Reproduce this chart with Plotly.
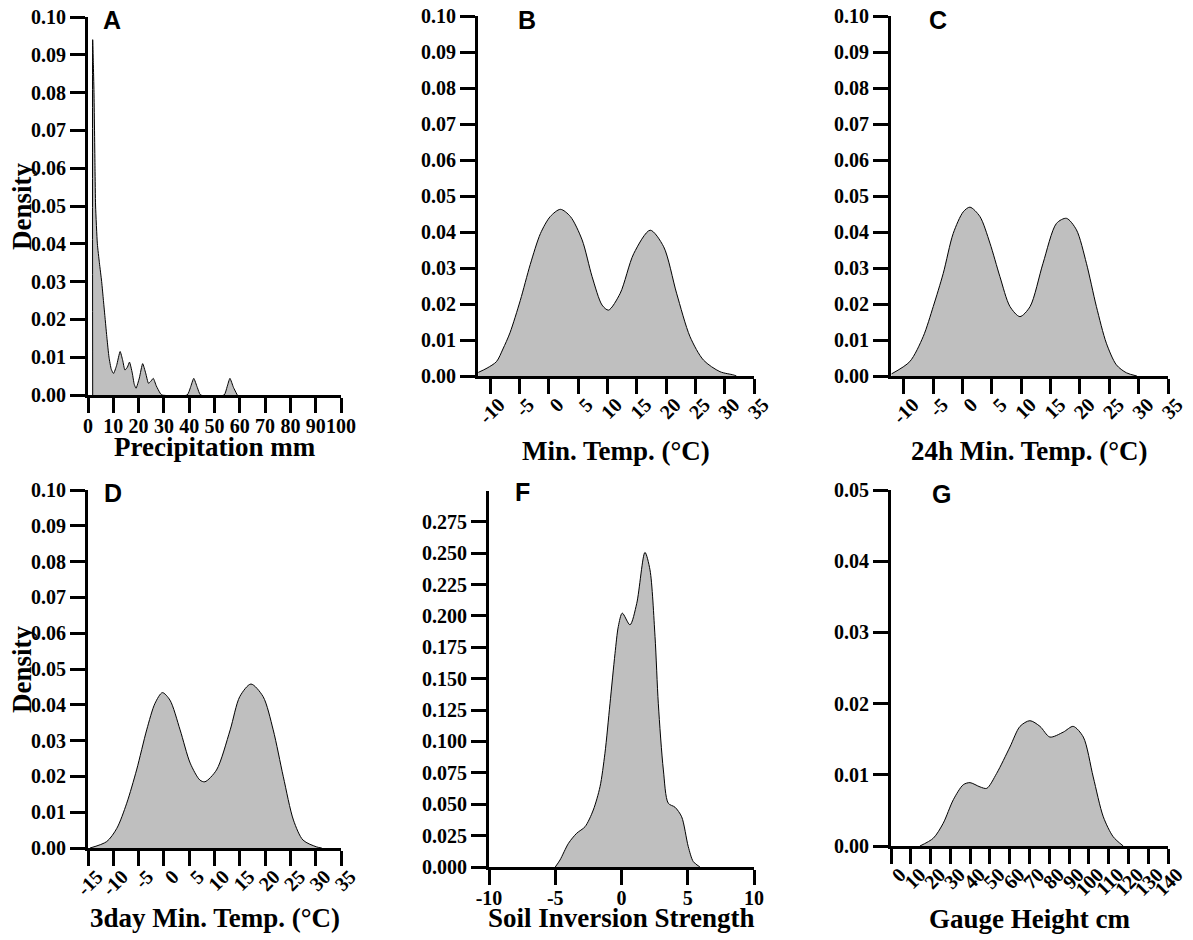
import plotly.graph_objects as go

# The page body has an 8px margin, so the figure is drawn 8px in from the top-left
OFF = 8
W, H = 1193 - OFF, 940 - OFF

# ---------------- data ----------------
precip_x = [1.85, 1.85, 2.1, 2.37, 2.77, 3.0, 3.7, 4.5, 5.4, 6.1, 6.8, 7.5, 8.3, 9.2, 10.1, 11.3, 12.7,
            13.7, 14.6, 15.6, 16.4, 17.5, 18.3, 19.0, 20.3, 21.6, 22.8, 23.9, 24.8, 25.8, 27.0, 28.5,
            29.2, 39.2, 40.5, 41.8, 43.2, 44.5, 53.8, 55.0, 56.1, 57.5, 59.0]
precip_d = [0.0, 0.094, 0.088, 0.080, 0.060, 0.050, 0.040, 0.035, 0.030, 0.025, 0.020, 0.015, 0.010,
            0.0068, 0.0057, 0.0078, 0.0115, 0.0092, 0.0066, 0.0074, 0.0087, 0.0058, 0.0028, 0.0018,
            0.0045, 0.0083, 0.0058, 0.0031, 0.0036, 0.0044, 0.0024, 0.0005, 0.0, 0.0, 0.0020, 0.0044,
            0.0020, 0.0, 0.0, 0.0022, 0.0044, 0.0020, 0.0]

mint_x = [-12.0, -10.5, -8.9, -7.8, -6.6, -4.84, -3.14, -1.4, 0.27, 2.0, 3.7, 5.7, 7.4, 9.1, 10.2,
          12.2, 14.5, 17.3, 19.6, 21.8, 24.1, 26.4, 29.2, 31.5, 32.0]
mint_d = [0.001, 0.0022, 0.004, 0.0075, 0.012, 0.021, 0.031, 0.0396, 0.0443, 0.0463, 0.0443, 0.0378,
          0.0276, 0.0197, 0.0183, 0.023, 0.034, 0.0405, 0.0359, 0.023, 0.0109, 0.0044, 0.0012,
          0.0003, 0.0]

mint24_x = [-12.1, -9.0, -6.7, -5.0, -3.3, -1.6, 0.11, 1.25, 2.95, 4.66, 6.36, 8.07, 9.77, 11.5,
            13.7, 16.0, 17.7, 19.4, 21.1, 22.8, 24.5, 26.2, 27.9, 29.7]
mint24_d = [0.0006, 0.004, 0.011, 0.0193, 0.0285, 0.0396, 0.0456, 0.0469, 0.0443, 0.0369, 0.0276,
            0.0193, 0.0165, 0.0193, 0.0313, 0.0424, 0.0438, 0.0406, 0.0313, 0.0193, 0.0091, 0.0031,
            0.0009, 0.0]

mint3d_x = [-14.6, -11.3, -9.3, -7.35, -5.4, -3.4, -1.76, -0.3, 1.2, 3.2, 5.2, 7.1, 8.1, 10.4, 13.1,
            15.0, 17.2, 19.6, 21.6, 23.6, 25.6, 27.5, 30.2, 31.2]
mint3d_d = [0.0, 0.0018, 0.0055, 0.0125, 0.0218, 0.033, 0.0404, 0.0434, 0.0413, 0.033, 0.0237,
            0.019, 0.0185, 0.0218, 0.033, 0.0423, 0.0458, 0.0423, 0.033, 0.0199, 0.0078, 0.0022,
            0.0003, 0.0]

soil_x = [-5.0, -4.64, -4.0, -3.38, -2.75, -2.13, -1.62, -1.25, -0.87, -0.49, -0.24, 0.06, 0.64,
          1.15, 1.77, 2.15, 2.53, 2.78, 3.16, 3.53, 4.04, 4.54, 5.04, 5.42, 5.92]
soil_d = [0.0, 0.0056, 0.0189, 0.0269, 0.0321, 0.0454, 0.064, 0.0906, 0.130, 0.170, 0.1916, 0.2022,
          0.1929, 0.210, 0.2506, 0.2367, 0.1836, 0.130, 0.0773, 0.0508, 0.0476, 0.040, 0.0162,
          0.0043, 0.0]

gauge_x = [14.6, 21.4, 26.4, 31.5, 36.5, 39.9, 45.0, 48.4, 53.4, 60.1, 65.2, 70.2, 75.3, 80.3, 87.1,
           92.1, 97.2, 102.2, 107.3, 112.3, 117.4]
gauge_d = [0.0, 0.0011, 0.0032, 0.0065, 0.0086, 0.0089, 0.0083, 0.0081, 0.0102, 0.0139, 0.0168,
           0.0176, 0.0168, 0.0153, 0.016, 0.0168, 0.0153, 0.0097, 0.0041, 0.0013, 0.0]

panel_letters = ["A", "B", "C", "D", "F", "G"]
x_titles = ["Precipitation mm", "Min. Temp. (°C)", "24h Min. Temp. (°C)",
            "3day Min. Temp. (°C)", "Soil Inversion Strength", "Gauge Height cm"]

# ---------------- layout helpers (positions given in window pixels) ----------------
def fx(px):
    return (px - OFF) / W

def fy(py):
    return 1 - (py - OFF) / H

def px_dom(a, b):
    return [fx(a), fx(b)]

def py_dom(top, bottom):
    return [fy(bottom), fy(top)]

panels = [
    dict(x=precip_x, y=precip_d, xd=(88, 341), yd=(17, 395), xr=[0, 100], xt=list(range(0, 101, 10)),
         ang=0, yr=[0, 0.1], yt=[i / 100 for i in range(11)], fmt=".2f", shape="spline", sm=0.5),
    dict(x=mint_x, y=mint_d, xd=(478, 754), yd=(16, 376), xr=[-12.05, 35], xt=list(range(-10, 36, 5)),
         ang=-45, yr=[0, 0.1], yt=[i / 100 for i in range(11)], fmt=".2f", shape="spline", sm=0.8),
    dict(x=mint24_x, y=mint24_d, xd=(891, 1168), yd=(16, 376), xr=[-12.2, 35], xt=list(range(-10, 36, 5)),
         ang=-45, yr=[0, 0.1], yt=[i / 100 for i in range(11)], fmt=".2f", shape="spline", sm=0.8),
    dict(x=mint3d_x, y=mint3d_d, xd=(88, 341), yd=(490, 848), xr=[-15, 35], xt=list(range(-15, 36, 5)),
         ang=-45, yr=[0, 0.1], yt=[i / 100 for i in range(11)], fmt=".2f", shape="spline", sm=0.8),
    dict(x=soil_x, y=soil_d, xd=(489, 754), yd=(491, 867), xr=[-10, 10], xt=list(range(-10, 11, 5)),
         ang=0, yr=[0, 0.2995], yt=[i * 0.025 for i in range(12)], fmt=".3f", shape="spline", sm=0.8),
    dict(x=gauge_x, y=gauge_d, xd=(891, 1168), yd=(490, 846), xr=[0, 140], xt=list(range(0, 141, 10)),
         ang=-45, yr=[0, 0.05], yt=[i / 100 for i in range(6)], fmt=".2f", shape="spline", sm=0.8),
]

tick_font = dict(family="Liberation Serif", size=20, color="black", weight="bold")
title_font = dict(family="Liberation Serif", size=27, color="black", weight="bold")
letter_font = dict(family="Liberation Sans", size=25, color="black", weight="bold")

fig = go.Figure()
layout = dict(template="none", width=W, height=H, margin=dict(l=0, r=0, t=0, b=0, pad=0),
              autosize=False, paper_bgcolor="white", plot_bgcolor="white", showlegend=False)
annotations = []

for i, p in enumerate(panels):
    n = "" if i == 0 else str(i + 1)
    fig.add_trace(go.Scatter(
        x=p["x"], y=p["y"], mode="lines", fill="tozeroy",
        fillcolor="rgb(191,191,191)",
        line=dict(color="black", width=1, shape=p["shape"], smoothing=p["sm"]),
        xaxis="x" + n, yaxis="y" + n, hoverinfo="skip", cliponaxis=True))
    common = dict(showgrid=False, zeroline=False, showline=True, linecolor="black", linewidth=3,
                  ticks="outside", ticklen=15, tickwidth=3, tickcolor="black", automargin=False,
                  ticklabeloverflow="allow",
                  tickfont=tick_font, fixedrange=True, layer="above traces")
    if p["ang"]:
        xextra = dict(ticklabelshift=9, ticklabelstandoff=-9)
    else:
        xextra = dict(ticklabelstandoff=-4)
    layout["xaxis" + n] = dict(domain=px_dom(*p["xd"]), range=p["xr"], tickmode="array",
                               tickvals=p["xt"], ticktext=[str(v) for v in p["xt"]],
                               tickangle=p["ang"], anchor="y" + n, **common, **xextra)
    layout["yaxis" + n] = dict(domain=py_dom(*p["yd"]), range=p["yr"], tickmode="array",
                               tickvals=p["yt"], ticktext=[format(v, p["fmt"]) for v in p["yt"]],
                               anchor="x" + n, **common)

letter_pos = [(112, 20), (527, 20), (938, 20), (113, 493), (522, 492), (941, 494)]
title_pos = [(214.5, 447), (616, 451), (1029.5, 451), (214.5, 918), (621.5, 918), (1029.5, 919)]

for (lx, ly), t in zip(letter_pos, panel_letters):
    annotations.append(dict(x=fx(lx), y=fy(ly), xref="paper", yref="paper", text=t,
                            showarrow=False, font=letter_font, xanchor="center", yanchor="middle"))
for (tx, ty), t in zip(title_pos, x_titles):
    annotations.append(dict(x=fx(tx), y=fy(ty), xref="paper", yref="paper", text=t,
                            showarrow=False, font=title_font, xanchor="center", yanchor="middle"))
for dy in (207, 670):
    annotations.append(dict(x=fx(22), y=fy(dy), xref="paper", yref="paper", text="Density",
                            showarrow=False, font=title_font, textangle=-90,
                            xanchor="center", yanchor="middle"))

layout["annotations"] = annotations
fig.update_layout(**layout)
fig.write_html("out.html")
